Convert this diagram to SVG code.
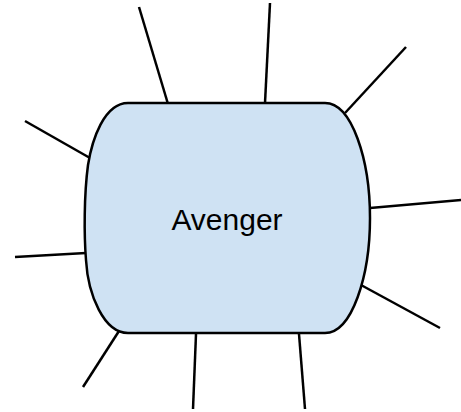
<svg xmlns="http://www.w3.org/2000/svg" width="461" height="412" viewBox="0 0 461 412">
<style>
.shape{fill:#cfe2f3;stroke:#000;stroke-width:2.5;stroke-linejoin:round}
.conn{stroke:#000;stroke-width:2.5;fill:none;stroke-linecap:butt}
.lbl{font-family:"Liberation Sans",Arial,sans-serif;font-size:30px;fill:#000}
</style>
<rect width="461" height="412" fill="#fff"/>
<g id="connectors">
<line class="conn" x1="139" y1="7" x2="168" y2="104"/>
<line class="conn" x1="270" y1="3" x2="265" y2="103"/>
<line class="conn" x1="406" y1="47" x2="345" y2="113"/>
<line class="conn" x1="25" y1="121" x2="90" y2="158"/>
<line class="conn" x1="461" y1="200" x2="370" y2="208"/>
<line class="conn" x1="15" y1="257" x2="86" y2="253"/>
<line class="conn" x1="440" y1="328" x2="361" y2="285"/>
<line class="conn" x1="83" y1="387" x2="119" y2="331"/>
<line class="conn" x1="193" y1="409" x2="196" y2="334"/>
<line class="conn" x1="305" y1="409" x2="299" y2="334"/>
</g>
<g id="avenger">
<path class="shape" d="M128,103 L325,103 C352,103 370,160 370,218 C370,276 352,333 325,333 L128,333 C104,333 88,295 86,260 C84,235 84,195 88,165 C92,140 104,103 128,103 Z"/>
<text class="lbl" x="227" y="230" text-anchor="middle">Avenger</text>
</g>
</svg>
